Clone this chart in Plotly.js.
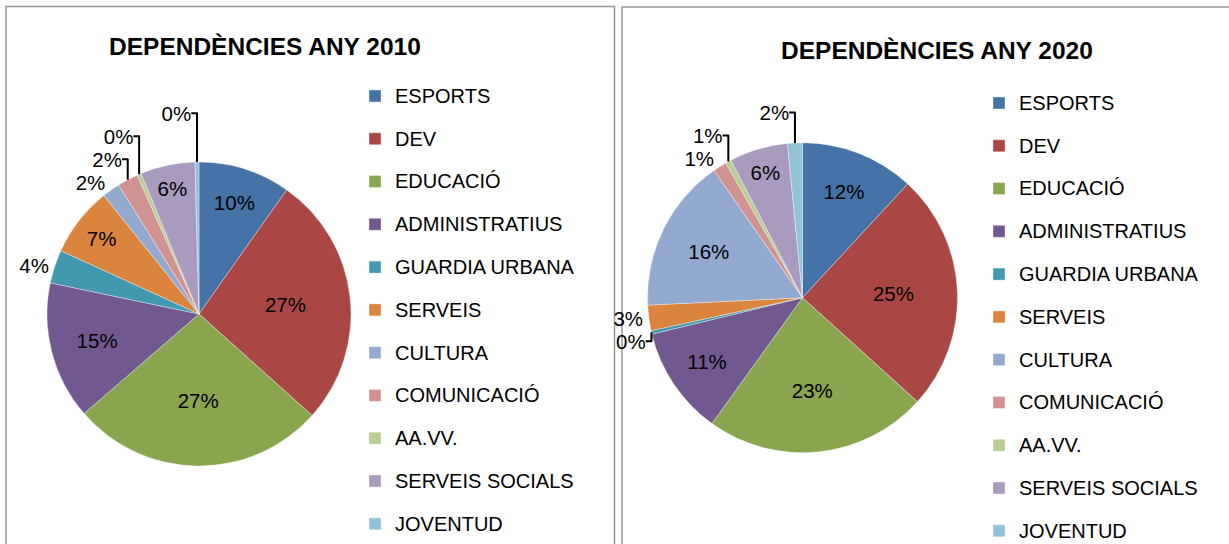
<!DOCTYPE html>
<html>
<head>
<meta charset="utf-8">
<script src="https://cdn.plot.ly/plotly-3.0.1.min.js"></script>
<style>
html,body{margin:0;padding:0;background:#ffffff;}
#chart{width:1229px;height:544px;}
</style>
</head>
<body>
<div id="chart"></div>
<script>
// ---- data ----
const categories = ['ESPORTS','DEV','EDUCACIÓ','ADMINISTRATIUS','GUARDIA URBANA','SERVEIS','CULTURA','COMUNICACIÓ','AA.VV.','SERVEIS SOCIALS','JOVENTUD'];
const values2010 = [9.8, 26.85, 27.0, 14.65, 3.55, 7.4, 1.9, 2.2, 0.45, 5.8, 0.42];
const values2020 = [11.9, 24.84, 23.25, 11.3, 0.37, 2.65, 16.1, 1.44, 0.6, 6.1, 1.55];
const title2010 = 'DEPENDÈNCIES ANY 2010';
const title2020 = 'DEPENDÈNCIES ANY 2020';

// ---- styles ----
const colors = ['#4572A7','#AA4643','#89A54E','#71588F','#4198AF','#DB843D','#93A9CF','#D19392','#B9CD96','#A99BBD','#92C3D4'];
const pos2010 = ['inside','inside','inside','inside','outside','inside','outside','outside','outside','inside','outside'];
const pos2020 = ['inside','inside','inside','inside','outside','outside','inside','outside','outside','inside','outside'];
const FONT = '"Liberation Sans", Arial, sans-serif';
const W = 1229, H = 544;
const px = v => v / W;
const py = v => 1 - v / H;

const legendLabels = categories.map(c => '<span style="font-size:20px;baseline-shift:5px">' + c + '</span>');

function pieTrace(values, positions, domain, legendId, group) {
  return {
    type: 'pie',
    labels: legendLabels,
    values: values,
    sort: false,
    direction: 'clockwise',
    rotation: 0,
    marker: {colors: colors, line: {width: 0.6, color: 'rgba(255,255,255,0.6)'}},
    textposition: positions,
    texttemplate: '%{percent:.0%}',
    insidetextorientation: 'horizontal',
    textfont: {family: FONT, size: 20.5, color: '#000000'},
    insidetextfont: {family: FONT, size: 20.5, color: '#000000'},
    outsidetextfont: {family: FONT, size: 20.5, color: '#000000'},
    hoverinfo: 'label+percent',
    domain: domain,
    legend: legendId,
    legendgroup: group,
    showlegend: true
  };
}

const data = [
  pieTrace(values2010, pos2010, {x: [px(47), px(351)], y: [py(466), py(162)]}, 'legend', 'g2010'),
  pieTrace(values2020, pos2020, {x: [px(647.5), px(957.5)], y: [py(452.7), py(142.7)]}, 'legend2', 'g2020')
];

const legendBase = {
  font: {family: FONT, size: 30.6, color: '#000000'},
  bgcolor: 'rgba(0,0,0,0)',
  borderwidth: 0,
  xanchor: 'left',
  yanchor: 'top',
  orientation: 'v',
  traceorder: 'normal'
};

const layout = {
  width: W,
  height: H,
  margin: {l: 0, r: 0, t: 0, b: 0, autoexpand: false},
  paper_bgcolor: '#ffffff',
  font: {family: FONT, color: '#000000'},
  legend: Object.assign({}, legendBase, {x: px(355), y: py(69.6)}),
  legend2: Object.assign({}, legendBase, {x: px(979), y: py(76.6)}),
  annotations: [
    {text: title2010, xref: 'paper', yref: 'paper', x: px(265), y: py(46), xanchor: 'center', yanchor: 'middle', showarrow: false, font: {family: FONT, size: 24.5, color: '#000000', weight: 'bold'}},
    {text: title2020, xref: 'paper', yref: 'paper', x: px(937), y: py(50), xanchor: 'center', yanchor: 'middle', showarrow: false, font: {family: FONT, size: 24.5, color: '#000000', weight: 'bold'}}
  ],
  shapes: [
    {type: 'rect', xref: 'paper', yref: 'paper', x0: px(6), x1: px(614.5), y0: py(560), y1: py(6.5), line: {color: '#969696', width: 1.5}, fillcolor: 'rgba(0,0,0,0)', layer: 'below'},
    {type: 'rect', xref: 'paper', yref: 'paper', x0: px(622), x1: px(1240), y0: py(560), y1: py(7), line: {color: '#969696', width: 1.5}, fillcolor: 'rgba(0,0,0,0)', layer: 'below'}
  ]
};

Plotly.newPlot('chart', data, layout, {staticPlot: true, displayModeBar: false});
</script>
</body>
</html>
